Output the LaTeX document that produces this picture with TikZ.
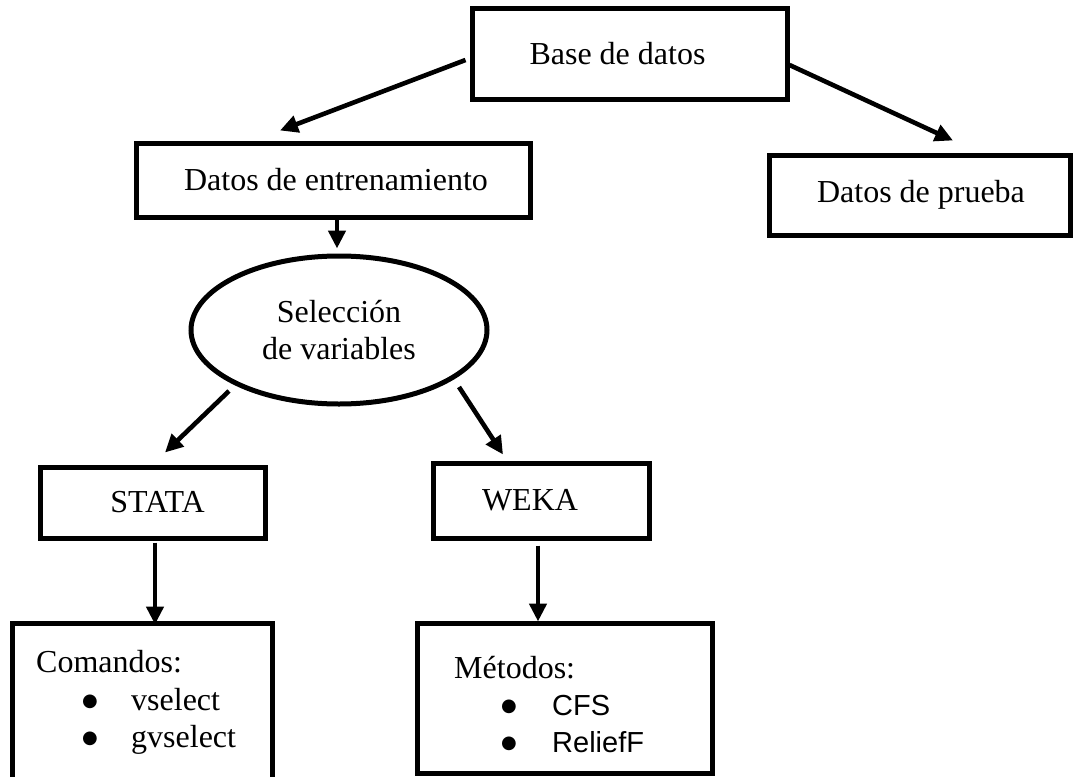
\documentclass[tikz,border=0pt]{standalone}
\usepackage{fontspec}
\setmainfont{Liberation Serif}
\newfontfamily\arialf{Liberation Sans}
\newfontfamily\djv{DejaVu Sans}
\usetikzlibrary{arrows.meta,shapes.geometric,calc}
\newcommand{\mybul}{\raisebox{4pt}{\djv\fontsize{18}{18}\selectfont ●}}
\tikzset{
  boxn/.style={draw=black, line width=5pt, rectangle, inner sep=0pt, font=\fontsize{32}{37}\selectfont},
  elln/.style={draw=black, line width=5pt, ellipse, inner sep=0pt, align=center, font=\fontsize{32}{37}\selectfont},
  arr/.style={line width=4.6pt, -{Triangle[length=18pt,width=17pt]}},
  txtn/.style={inner sep=0pt, anchor=base west, font=\fontsize{32}{37}\selectfont},
  bul/.style={inner sep=0pt, anchor=base},
  sans/.style={inner sep=0pt, anchor=base west, font=\arialf\fontsize{29}{34}\selectfont}
}
\begin{document}
\begin{tikzpicture}[x=1pt,y=-1pt]
\useasboundingbox[fill=white] (0,0) rectangle (1075,776);
% boxes
\node[boxn, minimum width=315pt, minimum height=90pt] (base) at (629.5,54) {\hspace*{-24pt}\raisebox{-2pt}{Base de datos}};
\node[boxn, minimum width=394pt, minimum height=74pt] (entr) at (333,180) {\hspace*{6pt}Datos de entrenamiento};
\node[boxn, minimum width=301pt, minimum height=80pt] (prueba) at (919.5,195) {\hspace*{3pt}Datos de prueba};
\node[elln, minimum width=296pt, minimum height=148pt] (sel) at (339,330) {Selección\\de variables};
\node[boxn, minimum width=225pt, minimum height=71pt] (stata) at (152.5,502.5) {\hspace*{10pt}\raisebox{-5pt}{STATA}};
\node[boxn, minimum width=216pt, minimum height=75pt] (weka) at (541,500.5) {\hspace*{-22pt}WEKA};
\node[boxn, minimum width=260pt, minimum height=180pt] (cmd) at (142,713) {};
\node[boxn, minimum width=295pt, minimum height=150pt] (met) at (564.5,698) {};
% list texts
\node[txtn] (cmdt) at (36,672) {Comandos:};
\node[bul] (b1) at (90,710) {\mybul};
\node[txtn] (v1) at (131,710) {vselect};
\node[bul] (b2) at (90,747) {\mybul};
\node[txtn] (v2) at (131,747) {gvselect};
\node[txtn] (mett) at (454,678) {Métodos:};
\node[bul] (b3) at (509,715) {\mybul};
\node[sans] (m1) at (552,715) {CFS};
\node[bul] (b4) at (509,752) {\mybul};
\node[sans] (m2) at (552,752) {ReliefF};
% connectors
\draw[arr] ($(base.west)+(-4,6)$) -- ($(entr.north)+(-53,-10)$);
\draw[arr] ($(base.east)+(0,11)$) -- ($(prueba.north)+(33.5,-12)$);
\draw[arr] ($(entr.south)+(4,0)$) -- ($(sel.north)+(-2,-5)$);
\draw[arr] ($(sel.center)+(-110,61)$) -- ($(stata.north)+(12.5,-12)$);
\draw[arr] ($(sel.center)+(120,57)$) -- ($(weka.north)+(-38,-6)$);
\draw[arr] ($(stata.south)+(2.5,2)$) -- ($(cmd.north)+(13,4)$);
\draw[arr] ($(weka.south)+(-3,5)$) -- ($(met.north)+(-26.5,1)$);
\end{tikzpicture}
\end{document}
